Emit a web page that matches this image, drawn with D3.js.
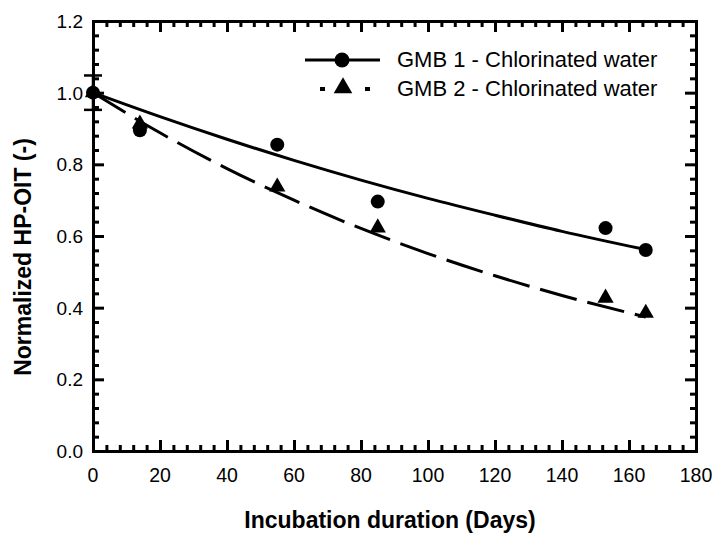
<!DOCTYPE html>
<html>
<head>
<meta charset="utf-8">
<script src="https://cdn.jsdelivr.net/npm/d3@7"></script>
<style>
  body { margin: 0; background: #fff; }
  svg { font-family: "Liberation Sans", Arial, sans-serif; }
</style>
</head>
<body>
<div id="chart"></div>
<script>
// measured points
var days = [0, 14, 55, 85, 153, 165];
var gmb1 = [1.0, 0.895, 0.855, 0.696, 0.622, 0.561];
var gmb2 = [1.0, 0.913, 0.737, 0.623, 0.427, 0.385];
var gmb1Err = [0.048, 0, 0, 0, 0, 0];

// fitted curves
var fitDays = [0, 20, 40, 60, 80, 100, 120, 140, 165];
var fit1 = [1.0, 0.933, 0.870, 0.811, 0.756, 0.705, 0.658, 0.613, 0.562];
var fit2 = [1.0, 0.888, 0.788, 0.700, 0.621, 0.551, 0.489, 0.434, 0.374];

var xTicks = [0, 20, 40, 60, 80, 100, 120, 140, 160, 180];
var yTicks = [0, 0.2, 0.4, 0.6, 0.8, 1.0, 1.2];
var legendLabels = ['GMB 1 - Chlorinated water', 'GMB 2 - Chlorinated water'];

var width = 715, height = 535;
var margin = { top: 21, right: 19, bottom: 84, left: 93 };

var svg = d3.select('#chart').append('svg')
    .attr('width', width)
    .attr('height', height);

var x = d3.scaleLinear().domain([0, 180]).range([margin.left, width - margin.right]);
var y = d3.scaleLinear().domain([0, 1.2]).range([height - margin.bottom, margin.top]);

var majorLen = 11, minorLen = 6;

/* axes, ticks pointing inward on every side */
var xAll = d3.range(0, 181, 4);
var yAll = d3.range(0, 31).map(function(i) { return i * 0.04; });

function isMajorX(d) { return d % 20 === 0; }
function isMajorY(d) { return Math.abs(d / 0.2 - Math.round(d / 0.2)) < 1e-6; }

var axBottom = svg.append('g').attr('transform', 'translate(0,' + y(0) + ')')
    .call(d3.axisBottom(x).tickValues(xAll).tickSizeInner(0).tickSizeOuter(0).tickFormat(''));
var axTop = svg.append('g').attr('transform', 'translate(0,' + y(1.2) + ')')
    .call(d3.axisTop(x).tickValues(xAll).tickSizeInner(0).tickSizeOuter(0).tickFormat(''));
var axLeft = svg.append('g').attr('transform', 'translate(' + x(0) + ',0)')
    .call(d3.axisLeft(y).tickValues(yAll).tickSizeInner(0).tickSizeOuter(0).tickFormat(''));
var axRight = svg.append('g').attr('transform', 'translate(' + x(180) + ',0)')
    .call(d3.axisRight(y).tickValues(yAll).tickSizeInner(0).tickSizeOuter(0).tickFormat(''));

axBottom.selectAll('.tick line').attr('y2', function(d) { return isMajorX(d) ? -majorLen : -minorLen; });
axTop.selectAll('.tick line').attr('y2', function(d) { return isMajorX(d) ? majorLen : minorLen; });
axLeft.selectAll('.tick line').attr('x2', function(d) { return isMajorY(d) ? majorLen : minorLen; });
axRight.selectAll('.tick line').attr('x2', function(d) { return isMajorY(d) ? -majorLen : -minorLen; });

svg.selectAll('.domain, .tick line')
    .attr('stroke', '#000')
    .attr('stroke-width', 3);
svg.selectAll('.domain').attr('stroke-linecap', 'square');

/* tick labels */
svg.append('g').selectAll('text')
    .data(xTicks)
    .enter().append('text')
    .attr('x', function(d) { return x(d); })
    .attr('y', 482)
    .attr('text-anchor', 'middle')
    .attr('font-size', 19.5)
    .text(function(d) { return d; });

svg.append('g').selectAll('text')
    .data(yTicks)
    .enter().append('text')
    .attr('x', x(0) - 10)
    .attr('y', function(d) { return y(d) + 7; })
    .attr('text-anchor', 'end')
    .attr('font-size', 19)
    .text(function(d) { return d3.format('.1f')(d); });

/* axis titles */
svg.append('text')
    .attr('x', 390)
    .attr('y', 528)
    .attr('text-anchor', 'middle')
    .attr('font-size', 23)
    .attr('font-weight', 'bold')
    .text('Incubation duration (Days)');

svg.append('text')
    .attr('transform', 'translate(31,257) rotate(-90)')
    .attr('text-anchor', 'middle')
    .attr('font-size', 23)
    .attr('font-weight', 'bold')
    .text('Normalized HP-OIT (-)');

/* fitted lines */
var line = d3.line()
    .x(function(d) { return x(d[0]); })
    .y(function(d) { return y(d[1]); })
    .curve(d3.curveMonotoneX);

svg.append('path')
    .datum(d3.zip(fitDays, fit1))
    .attr('d', line)
    .attr('fill', 'none')
    .attr('stroke', '#000')
    .attr('stroke-width', 3);

svg.append('path')
    .datum(d3.zip(fitDays, fit2))
    .attr('d', line)
    .attr('fill', 'none')
    .attr('stroke', '#000')
    .attr('stroke-width', 3)
    .attr('stroke-dasharray', '38,11');

/* error bars */
var errData = d3.zip(days, gmb1, gmb1Err).filter(function(d) { return d[2] > 0; });
var eb = svg.append('g').selectAll('g').data(errData).enter().append('g');
eb.append('line')
    .attr('x1', function(d) { return x(d[0]); }).attr('x2', function(d) { return x(d[0]); })
    .attr('y1', function(d) { return y(d[1] - d[2]); }).attr('y2', function(d) { return y(d[1] + d[2]); })
    .attr('stroke', '#000').attr('stroke-width', 2.5);
[-1, 1].forEach(function(s) {
    eb.append('line')
        .attr('x1', function(d) { return x(d[0]) - 9; }).attr('x2', function(d) { return x(d[0]) + 9; })
        .attr('y1', function(d) { return y(d[1] + s * d[2]); }).attr('y2', function(d) { return y(d[1] + s * d[2]); })
        .attr('stroke', '#000').attr('stroke-width', 2.5);
});

/* markers */
var tri = d3.symbol().type(d3.symbolTriangle).size(115);

svg.append('g').selectAll('circle')
    .data(d3.zip(days, gmb1))
    .enter().append('circle')
    .attr('cx', function(d) { return x(d[0]); })
    .attr('cy', function(d) { return y(d[1]); })
    .attr('r', 7)
    .attr('fill', '#000');

svg.append('g').selectAll('path')
    .data(d3.zip(days, gmb2))
    .enter().append('path')
    .attr('d', tri)
    .attr('transform', function(d) { return 'translate(' + x(d[0]) + ',' + y(d[1]) + ')'; })
    .attr('fill', '#000');

/* legend */
var legend = svg.append('g');
legend.append('line')
    .attr('x1', 305).attr('x2', 380).attr('y1', 60).attr('y2', 60)
    .attr('stroke', '#000').attr('stroke-width', 3);
legend.append('circle').attr('cx', 342).attr('cy', 60).attr('r', 7.5).attr('fill', '#000');
legend.append('line')
    .attr('x1', 320).attr('x2', 370).attr('y1', 89).attr('y2', 89)
    .attr('stroke', '#000').attr('stroke-width', 4)
    .attr('stroke-dasharray', '5,40');
legend.append('path')
    .attr('d', d3.symbol().type(d3.symbolTriangle).size(150))
    .attr('transform', 'translate(343,88)').attr('fill', '#000');
legend.selectAll('text')
    .data(legendLabels)
    .enter().append('text')
    .attr('x', 397)
    .attr('y', function(d, i) { return 67 + i * 29; })
    .attr('font-size', 22)
    .text(function(d) { return d; });
</script>
</body>
</html>
